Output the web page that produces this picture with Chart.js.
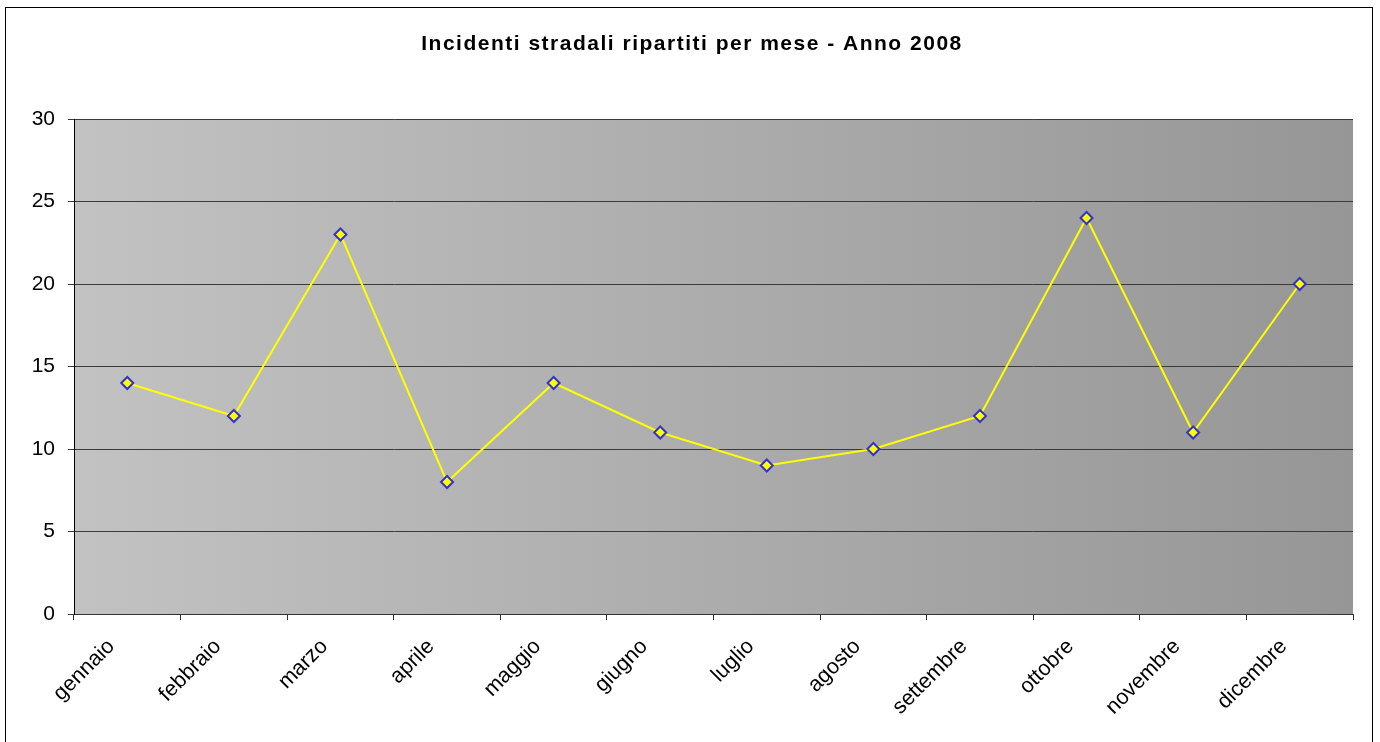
<!DOCTYPE html>
<html>
<head>
<meta charset="utf-8">
<script src="https://cdn.jsdelivr.net/npm/chart.js@4/dist/chart.umd.min.js"></script>
<style>
html,body{margin:0;padding:0;background:#fff;}
#wrap{width:1380px;height:742px;position:relative;}
</style>
</head>
<body>
<div id="wrap"><canvas id="c" width="1380" height="742"></canvas></div>
<script>
const months = ["gennaio","febbraio","marzo","aprile","maggio","giugno","luglio","agosto","settembre","ottobre","novembre","dicembre"];
const incidenti = [14,12,23,8,14,11,9,10,12,24,11,20];
const yTicks = [0,5,10,15,20,25,30];
const titleText = "Incidenti stradali ripartiti per mese - Anno 2008";

const bgPlugin = {
  id: 'bg',
  beforeDraw(chart) {
    const {ctx, chartArea: a} = chart;
    ctx.save();
    ctx.fillStyle = '#fff';
    ctx.fillRect(0,0,chart.width,chart.height);
    const g = ctx.createLinearGradient(a.left,0,a.right,0);
    g.addColorStop(0,'#c2c2c2');
    g.addColorStop(1,'#969696');
    ctx.fillStyle = g;
    ctx.fillRect(a.left,a.top,a.right-a.left,a.bottom-a.top);
    ctx.strokeStyle = '#000';
    ctx.lineWidth = 1;
    ctx.strokeRect(5.5,7.5,1367,760);
    ctx.fillStyle = '#000';
    ctx.font = 'bold 21px "Liberation Sans", Arial, sans-serif';
    try { ctx.letterSpacing = '1.5px'; } catch(e) {}
    ctx.textAlign = 'center';
    ctx.textBaseline = 'middle';
    ctx.fillText(titleText, 692, 44);
    ctx.restore();
  }
};

new Chart(document.getElementById('c'), {
  type: 'line',
  data: {
    labels: months,
    datasets: [{
      data: incidenti,
      borderColor: '#ffff00',
      borderWidth: 2,
      pointStyle: 'rectRot',
      pointRadius: 6,
      pointHoverRadius: 6,
      pointBackgroundColor: '#ffff00',
      pointBorderColor: '#3333cc',
      pointBorderWidth: 2,
      tension: 0,
      fill: false
    }]
  },
  options: {
    responsive: false,
    animation: false,
    devicePixelRatio: 1,
    layout: { padding: { left: 0, top: 119, right: 27, bottom: 0 } },
    plugins: { legend: { display: false }, tooltip: { enabled: false }, title: { display: false } },
    scales: {
      x: {
        offset: true,
        grid: { offset: true, drawOnChartArea: false, drawTicks: true, tickLength: 6, color: '#333' },
        border: { color: '#333', width: 1 },
        ticks: {
          minRotation: 45, maxRotation: 45, autoSkip: false,
          color: '#000', padding: 14, labelOffset: -16,
          font: { family: '"Liberation Sans", Arial, sans-serif', size: 21.5 }
        },
        afterFit(s) { s.height = 128; }
      },
      y: {
        min: 0, max: 30,
        afterBuildTicks(s) { s.ticks = yTicks.map(v => ({value: v})); },
        grid: { color: '#3a3a3a', lineWidth: 1, drawTicks: true, tickLength: 6 },
        border: { color: '#000', width: 1 },
        ticks: {
          color: '#000', padding: 13,
          font: { family: '"Liberation Sans", Arial, sans-serif', size: 21 }
        },
        afterFit(s) { s.width = 74; }
      }
    }
  },
  plugins: [bgPlugin]
});
</script>
</body>
</html>
